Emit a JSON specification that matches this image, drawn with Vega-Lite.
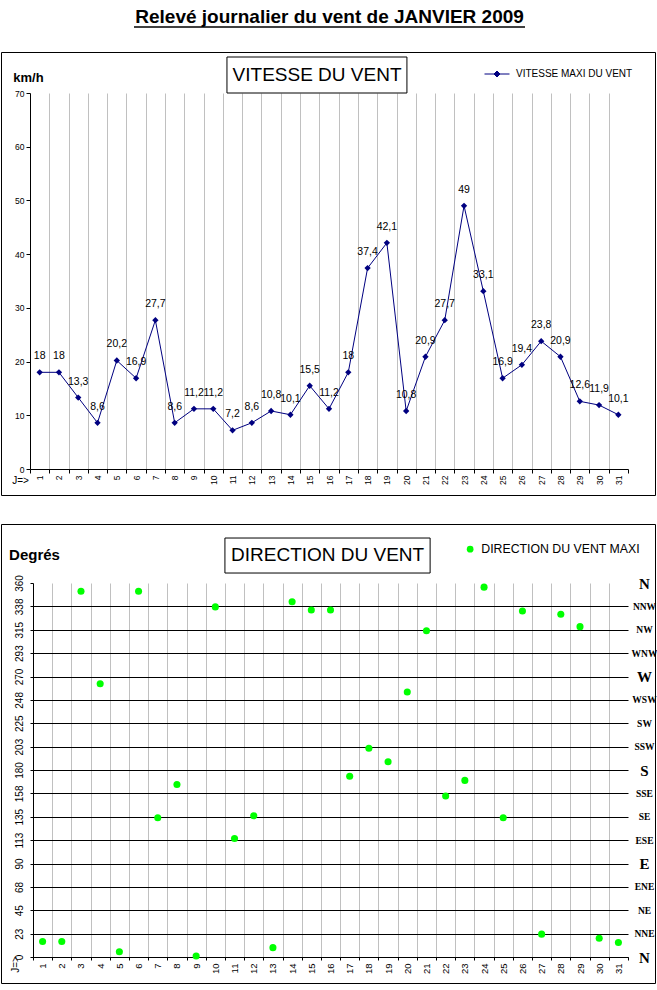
{
  "$schema": "https://vega.github.io/schema/vega-lite/v6.json",
  "padding": {"left": 0, "top": 7, "right": 0, "bottom": 0},
  "background": "white",
  "datasets": {
    "vent": [
      {"jour": 1, "vitesse": 18, "direction": 15},
      {"jour": 2, "vitesse": 18, "direction": 15},
      {"jour": 3, "vitesse": 13.3, "direction": 352},
      {"jour": 4, "vitesse": 8.6, "direction": 263},
      {"jour": 5, "vitesse": 20.2, "direction": 5},
      {"jour": 6, "vitesse": 16.9, "direction": 352},
      {"jour": 7, "vitesse": 27.7, "direction": 134},
      {"jour": 8, "vitesse": 8.6, "direction": 166},
      {"jour": 9, "vitesse": 11.2, "direction": 1},
      {"jour": 10, "vitesse": 11.2, "direction": 337},
      {"jour": 11, "vitesse": 7.2, "direction": 114},
      {"jour": 12, "vitesse": 8.6, "direction": 136},
      {"jour": 13, "vitesse": 10.8, "direction": 9},
      {"jour": 14, "vitesse": 10.1, "direction": 342},
      {"jour": 15, "vitesse": 15.5, "direction": 334},
      {"jour": 16, "vitesse": 11.2, "direction": 334},
      {"jour": 17, "vitesse": 18, "direction": 174},
      {"jour": 18, "vitesse": 37.4, "direction": 201},
      {"jour": 19, "vitesse": 42.1, "direction": 188},
      {"jour": 20, "vitesse": 10.8, "direction": 255},
      {"jour": 21, "vitesse": 20.9, "direction": 314},
      {"jour": 22, "vitesse": 27.7, "direction": 155},
      {"jour": 23, "vitesse": 49, "direction": 170},
      {"jour": 24, "vitesse": 33.1, "direction": 356},
      {"jour": 25, "vitesse": 16.9, "direction": 134},
      {"jour": 26, "vitesse": 19.4, "direction": 333},
      {"jour": 27, "vitesse": 23.8, "direction": 22},
      {"jour": 28, "vitesse": 20.9, "direction": 330},
      {"jour": 29, "vitesse": 12.6, "direction": 318},
      {"jour": 30, "vitesse": 11.9, "direction": 18},
      {"jour": 31, "vitesse": 10.1, "direction": 14}
    ]
  },
  "config": {
    "font": "Liberation Sans",
    "locale": {"number": {"decimal": ",", "thousands": " ", "grouping": [3], "currency": ["", " €"]}},
    "view": {"stroke": "black", "strokeWidth": 1},
    "axis": {"labelOverlap": false, "labelFlush": false, "domainColor": "black", "tickColor": "black", "labelColor": "black", "labelFont": "Liberation Sans", "titleColor": "black", "titleFont": "Liberation Sans"}
  },
  "spacing": 29,
  "bounds": "flush",
  "resolve": {"scale": {"x": "independent", "y": "independent", "color": "independent"}, "legend": {"color": "independent"}},
  "vconcat": [
    {
      "width": 654,
      "height": 443,
      "data": {"name": "vent"},
      "resolve": {"axis": {"x": "independent", "y": "independent"}},
      "layer": [
        {
          "mark": {"type": "line", "color": "#000080", "strokeWidth": 1},
          "encoding": {
            "x": {
              "field": "jour", "type": "quantitative",
              "scale": {"domain": [0.5, 31.5], "range": [29, 627], "nice": false, "zero": false},
              "axis": {
                "orient": "bottom", "offset": -26,
                "values": [0.5,1,1.5,2,2.5,3,3.5,4,4.5,5,5.5,6,6.5,7,7.5,8,8.5,9,9.5,10,10.5,11,11.5,12,12.5,13,13.5,14,14.5,15,15.5,16,16.5,17,17.5,18,18.5,19,19.5,20,20.5,21,21.5,22,22.5,23,23.5,24,24.5,25,25.5,26,26.5,27,27.5,28,28.5,29,29.5,30,30.5,31,31.5],
                "labelExpr": "datum.value % 1 == 0 ? datum.value : ''",
                "labelAngle": 270, "labelFontSize": 8.5, "labelPadding": 2,
                "tickSize": 4,
                "tickOpacity": {"condition": {"test": "datum.value % 1 == 0", "value": 0}, "value": 1},
                "grid": false,
                "title": "J=>", "titleX": 19, "titleY": 11, "titleAngle": 0, "titleAlign": "center", "titleBaseline": "middle", "titleFontSize": 10, "titleFontWeight": "normal"
              }
            },
            "y": {
              "field": "vitesse", "type": "quantitative",
              "scale": {"domain": [0, 70], "range": [417, 41], "nice": false, "zero": false},
              "axis": {
                "orient": "left", "offset": -29, "values": [0, 10, 20, 30, 40, 50, 60, 70],
                "grid": false, "tickSize": 4, "labelFontSize": 8.5, "labelPadding": 2,
                "title": "km/h", "titleX": -2, "titleY": 25, "titleAngle": 0, "titleAlign": "center", "titleBaseline": "middle", "titleFontSize": 13, "titleFontWeight": "bold"
              }
            }
          }
        },
        {
          "mark": {"type": "point", "shape": "diamond", "filled": true, "size": 40, "opacity": 1},
          "encoding": {
            "x": {
              "field": "jour", "type": "quantitative",
              "axis": {
                "orient": "top", "offset": 0,
                "values": [1.5,2.5,3.5,4.5,5.5,6.5,7.5,8.5,9.5,10.5,11.5,12.5,13.5,14.5,15.5,16.5,17.5,18.5,19.5,20.5,21.5,22.5,23.5,24.5,25.5,26.5,27.5,28.5,29.5,30.5],
                "grid": true, "gridColor": "#c0c0c0", "gridWidth": 1,
                "domain": false, "ticks": false, "labels": false, "title": null
              }
            },
            "y": {"field": "vitesse", "type": "quantitative", "axis": null},
            "color": {
              "datum": "VITESSE MAXI DU VENT",
              "scale": {"range": ["#000080"]},
              "legend": {
                "orient": "none", "legendX": 483, "legendY": 9, "title": null, "padding": 0,
                "symbolType": "M-1,0H1M-0.24,0L0,-0.24L0.24,0L0,0.24Z",
                "symbolSize": 625, "symbolOpacity": 1,
                "labelFontSize": 10, "labelOffset": 6, "labelColor": "black",
                "encode": {"symbols": {"update": {"stroke": {"value": "#000080"}, "strokeWidth": {"value": 1}, "fill": {"value": "#000080"}}}}
              }
            }
          }
        },
        {
          "mark": {"type": "text", "dy": -13, "fontSize": 10.5, "baseline": "alphabetic", "color": "black"},
          "encoding": {
            "x": {"field": "jour", "type": "quantitative", "axis": null},
            "y": {"field": "vitesse", "type": "quantitative", "axis": null},
            "text": {"field": "vitesse", "type": "quantitative", "format": "~g"}
          }
        },
        {
          "data": {"values": [{}]},
          "mark": {"type": "rect", "fill": "white", "stroke": "black", "strokeWidth": 1},
          "encoding": {
            "x": {"datum": 10.71, "axis": null},
            "x2": {"datum": 20.04},
            "y": {"datum": 70, "axis": null},
            "y2": {"datum": 76.7}
          }
        },
        {
          "data": {"values": [{}]},
          "mark": {"type": "text", "text": "VITESSE DU VENT", "fontSize": 19, "color": "black", "align": "center", "baseline": "middle"},
          "encoding": {
            "x": {"datum": 15.38, "axis": null},
            "y": {"datum": 73.35, "axis": null}
          }
        },
        {
          "data": {"values": [{}]},
          "mark": {"type": "text", "text": "Relevé journalier du vent de JANVIER 2009", "fontSize": 19, "fontWeight": "bold", "color": "black", "align": "center", "baseline": "middle"},
          "encoding": {
            "x": {"datum": 16.03, "axis": null},
            "y": {"datum": 84.15, "axis": null}
          }
        },
        {
          "data": {"values": [{}]},
          "mark": {"type": "rule", "color": "black", "strokeWidth": 1.5},
          "encoding": {
            "x": {"datum": 5.89, "axis": null},
            "x2": {"datum": 26.16},
            "y": {"datum": 82.29, "axis": null}
          }
        }
      ]
    },
    {
      "width": 654,
      "height": 459,
      "data": {"name": "vent"},
      "resolve": {"axis": {"x": "independent", "y": "independent"}},
      "layer": [
        {
          "mark": {"type": "circle", "size": 50, "opacity": 1, "color": "#00ff00"},
          "encoding": {
            "x": {
              "field": "jour", "type": "quantitative",
              "scale": {"domain": [0.5, 31.5], "range": [32, 627], "nice": false, "zero": false},
              "axis": {
                "orient": "bottom", "offset": -26,
                "values": [0.5,1,1.5,2,2.5,3,3.5,4,4.5,5,5.5,6,6.5,7,7.5,8,8.5,9,9.5,10,10.5,11,11.5,12,12.5,13,13.5,14,14.5,15,15.5,16,16.5,17,17.5,18,18.5,19,19.5,20,20.5,21,21.5,22,22.5,23,23.5,24,24.5,25,25.5,26,26.5,27,27.5,28,28.5,29,29.5,30,30.5,31,31.5],
                "labelExpr": "datum.value % 1 == 0 ? datum.value : ''",
                "labelAngle": 270, "labelFontSize": 9.5, "labelPadding": 3,
                "tickSize": 3,
                "tickOpacity": {"condition": {"test": "datum.value % 1 == 0", "value": 0}, "value": 1},
                "grid": false,
                "title": "J=>", "titleX": 14, "titleY": 7, "titleAngle": 270, "titleAlign": "center", "titleBaseline": "middle", "titleFontSize": 10, "titleFontWeight": "normal"
              }
            },
            "y": {
              "field": "direction", "type": "quantitative",
              "scale": {"domain": [0, 360], "range": [433, 59], "nice": false, "zero": false},
              "axis": {
                "orient": "left", "offset": -32,
                "values": [0, 22.5, 45, 67.5, 90, 112.5, 135, 157.5, 180, 202.5, 225, 247.5, 270, 292.5, 315, 337.5, 360],
                "labelExpr": "round(datum.value)",
                "labelAngle": 270, "labelFontSize": 10, "labelPadding": 6, "tickSize": 3,
                "grid": true,
                "gridColor": {"condition": {"test": "datum.value > 350", "value": "transparent"}, "value": "black"},
                "gridWidth": 1,
                "title": "Degrés", "titleX": 1, "titleY": 30, "titleAngle": 0, "titleAlign": "center", "titleBaseline": "middle", "titleFontSize": 15, "titleFontWeight": "bold"
              }
            },
            "color": {
              "datum": "DIRECTION DU VENT MAXI",
              "scale": {"range": ["#00ff00"]},
              "legend": {
                "orient": "none", "legendX": 463, "legendY": 19, "title": null, "padding": 0,
                "symbolType": "circle", "symbolSize": 45, "symbolOpacity": 1, "symbolStrokeWidth": 0,
                "labelFontSize": 12.3, "labelOffset": 5, "labelColor": "black"
              }
            }
          }
        },
        {
          "data": {"values": [{}]},
          "mark": {"type": "rect", "fill": "white", "stroke": "black", "strokeWidth": 1},
          "encoding": {
            "x": {"datum": 10.5, "axis": null},
            "x2": {"datum": 21.19},
            "y": {
              "datum": 369.6,
              "axis": {
                "orient": "right", "offset": -27,
                "values": [0, 22.5, 45, 67.5, 90, 112.5, 135, 157.5, 180, 202.5, 225, 247.5, 270, 292.5, 315, 337.5, 360],
                "labelExpr": "['N','NNE','NE','ENE','E','ESE','SE','SSE','S','SSW','SW','WSW','W','WNW','NW','NNW','N'][round(datum.value / 22.5)]",
                "labelFont": "Liberation Serif", "labelFontWeight": "bold",
                "labelFontSize": {"condition": {"test": "datum.value % 90 == 0", "value": 15}, "value": 9.5},
                "labelAlign": "center", "labelBaseline": "middle", "labelAngle": 0,
                "labelPadding": 16, "ticks": false, "tickSize": 0, "domain": false, "grid": false, "title": null
              }
            },
            "y2": {"datum": 403.3}
          }
        },
        {
          "data": {"values": [{}]},
          "mark": {"type": "text", "text": "DIRECTION DU VENT", "fontSize": 19, "color": "black", "align": "center", "baseline": "middle"},
          "encoding": {
            "x": {
              "datum": 15.85,
              "axis": {
                "orient": "top", "offset": 0,
                "values": [1.5,2.5,3.5,4.5,5.5,6.5,7.5,8.5,9.5,10.5,11.5,12.5,13.5,14.5,15.5,16.5,17.5,18.5,19.5,20.5,21.5,22.5,23.5,24.5,25.5,26.5,27.5,28.5,29.5,30.5],
                "grid": true, "gridColor": "#c0c0c0", "gridWidth": 1,
                "domain": false, "ticks": false, "labels": false, "title": null
              }
            },
            "y": {"datum": 386.5, "axis": null}
          }
        }
      ]
    }
  ]
}
